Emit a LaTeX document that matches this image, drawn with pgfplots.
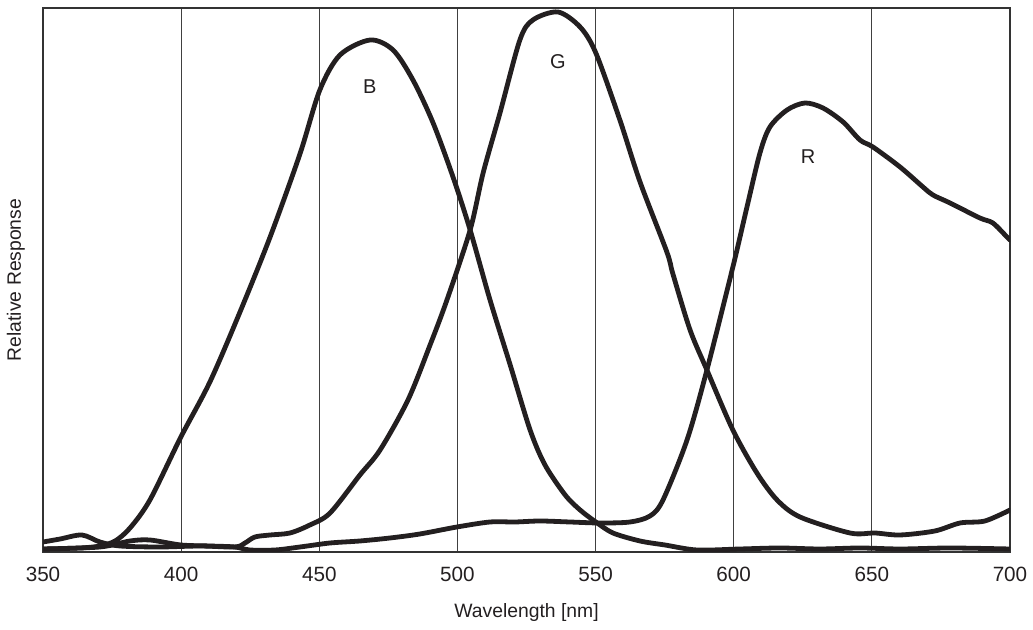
\documentclass[border=0pt]{standalone}
\usepackage{fontspec}
\setmainfont{Liberation Sans}
\usepackage{pgfplots}
\pgfplotsset{compat=1.18}
\definecolor{ink}{HTML}{231F20}
\begin{document}
\begin{tikzpicture}
\path (-32.25pt,-58.5pt) rectangle (742.5pt,414pt);
\begin{axis}[
  scale only axis,
  width=725.25pt, height=408pt,
  xmin=350, xmax=700, ymin=0, ymax=544,
  xtick={350,400,...,700}, ytick=\empty,
  major tick length=0pt,
  xmajorgrids,
  grid style={black!75, line width=0.75pt},
  axis line style={black!80, line width=1.5pt},
  /pgf/number format/assume math mode=true,
  /pgf/number format/1000 sep={},
  ticklabel style={font=\fontsize{15.5}{18}\selectfont, text=ink},
  xticklabel style={anchor=center, yshift=-17pt},
  xlabel={Wavelength [nm]},
  ylabel={Relative Response},
  label style={font=\fontsize{14.5}{18}\selectfont, text=ink},
  xlabel style={at={(axis description cs:0.5,-0.112)}, anchor=center},
  ylabel style={at={(axis description cs:-0.028,0.5)}, anchor=center},
  curve/.style={draw=ink, no markers, line width=3.6pt, smooth, tension=0.5, line join=round, line cap=round},
]
% B
\addplot[curve] coordinates {
(350,3) (363.4,4) (370.6,6) (376.1,11) (381.5,24) (388.7,52) (399.9,115)
(410.4,170) (421.3,240) (432.2,315) (443.0,398) (450.2,462) (457.5,497)
(468.4,512) (476.7,502) (483.9,472) (491.2,429) (498.4,375) (504.6,322)
(511.8,252) (519.1,187) (526.3,122) (531.7,87) (539.0,57) (544.4,42)
(550.1,30) (556.3,19) (566.1,11) (575.1,7) (586.7,2) (602.3,3)
(616.7,4) (631.2,3) (645.7,4) (660.2,3) (678.3,4) (700,3)
};
% G
\addplot[curve] coordinates {
(350,10) (356.2,13) (364.1,17) (370.6,10) (377.9,6) (392.3,5) (406.8,6)
(419.5,5) (423.1,9) (426.7,15) (432.2,17) (439.4,19) (446.6,27) (453.9,39)
(464.7,77) (472.0,102) (482.1,152) (490.1,207) (496.2,252) (504.6,322)
(509.3,379) (515.4,439) (522.6,512) (527.3,532) (536.4,540) (544.4,525)
(550.1,499) (558.8,432) (566.1,370) (575.8,300) (578.0,278) (584.2,222) (590.3,182)
(599.7,122) (608.4,79) (615.7,52) (624.0,35) (642.1,19) (651.1,19)
(660.2,17) (672.8,21) (681.9,29) (690.9,31) (700,42)
};
% R
\addplot[curve] coordinates {
(350,3) (370.6,5) (381.5,11) (388.7,12) (399.9,7) (410.4,6) (419.5,5)
(424.9,2) (434.0,2) (443.0,5) (453.9,9) (464.7,11) (475.6,14) (486.4,18)
(499.8,25) (511.8,30) (520.8,30) (529.9,31) (540.7,30) (551.6,29)
(562.5,30) (569.7,36) (574.4,52) (583.1,112) (590.3,182) (599.7,285)
(604.8,345) (609.5,399) (613.1,425) (619.3,442) (625.8,449) (632.3,444)
(639.6,430) (645.7,412) (650.4,405) (660.2,385) (668.5,365) (672.1,357)
(678.3,349) (689.1,334) (693.8,329) (698.9,315) (700,312)
};
\node[font=\fontsize{15}{18}\selectfont, text=ink] at (axis cs:468.3,465) {B};
\node[font=\fontsize{15}{18}\selectfont, text=ink] at (axis cs:536.4,490) {G};
\node[font=\fontsize{15}{18}\selectfont, text=ink] at (axis cs:626.9,395) {R};
\end{axis}
\end{tikzpicture}
\end{document}
